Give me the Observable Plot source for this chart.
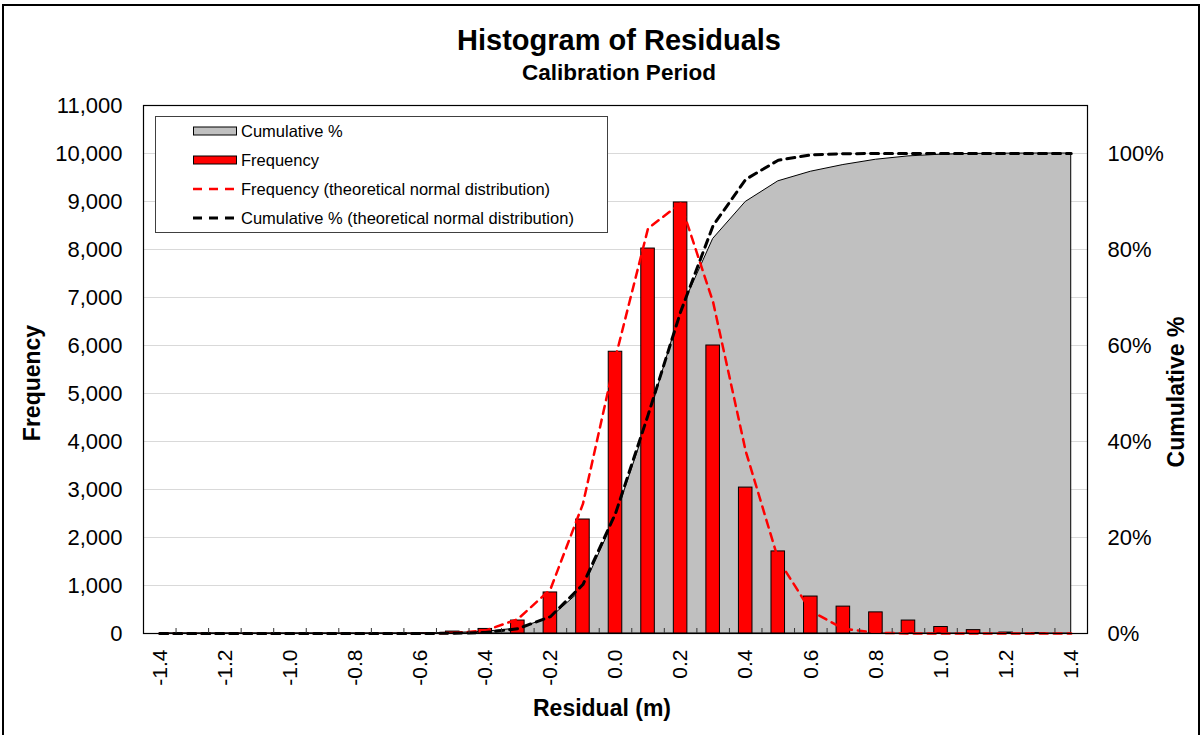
<!DOCTYPE html>
<html>
<head>
<meta charset="utf-8">
<title>Histogram of Residuals</title>
<script src="https://cdn.jsdelivr.net/npm/d3@7"></script>
<script src="https://cdn.jsdelivr.net/npm/@observablehq/plot@0.6"></script>
<style>
  html, body { margin: 0; padding: 0; background: #fff; }
  body { font-family: "Liberation Sans", Arial, sans-serif; color: #000; }
  #wrap { position: relative; width: 1203px; height: 735px; overflow: hidden; background: #fff; }
  #outline { position: absolute; left: 2px; top: 4px; width: 1198px; height: 780px; border: 2px solid #000; box-sizing: border-box; }
  #chart { position: absolute; left: 0; top: 0; }
  .lbl { position: absolute; font-weight: bold; white-space: nowrap; line-height: 1; }
  #title { left: 619px; top: 26px; font-size: 29px; transform: translateX(-50%); }
  #subtitle { left: 619px; top: 62px; font-size: 22.5px; transform: translateX(-50%); }
  #xlabel { left: 602px; top: 697px; font-size: 23px; transform: translateX(-50%); }
  #ylabel { left: 32px; top: 383px; font-size: 23px; transform: translate(-50%, -50%) rotate(-90deg); }
  #y2label { left: 1176px; top: 392px; font-size: 23px; transform: translate(-50%, -50%) rotate(-90deg); }
  #legend { position: absolute; left: 155px; top: 116px; width: 453px; height: 117px; box-sizing: border-box;
            border: 1px solid #404040; background: #fff; font-size: 16.5px; }
  #legend .row { position: absolute; left: 37px; height: 20px; display: flex; align-items: center; white-space: nowrap; }
  #legend svg { display: block; margin-right: 4px; }
</style>
</head>
<body>
<div id="wrap">
  <div id="chart"></div>
  <div id="outline"></div>
  <div class="lbl" id="title">Histogram of Residuals</div>
  <div class="lbl" id="subtitle">Calibration Period</div>
  <div class="lbl" id="xlabel">Residual (m)</div>
  <div class="lbl" id="ylabel">Frequency</div>
  <div class="lbl" id="y2label">Cumulative %</div>
  <div id="legend"></div>
</div>
<script>
// Residual bins (m), bin centres
const residuals = [-1.4, -1.3, -1.2, -1.1, -1.0, -0.9, -0.8, -0.7, -0.6, -0.5, -0.4, -0.3, -0.2, -0.1,
  0.0, 0.1, 0.2, 0.3, 0.4, 0.5, 0.6, 0.7, 0.8, 0.9, 1.0, 1.1, 1.2, 1.3, 1.4];

// Observed count of residuals in each bin
const frequency = [0, 0, 0, 0, 0, 0, 0, 0, 5, 40, 95, 270, 855, 2375,
  5870, 8020, 8980, 6000, 3040, 1710, 770, 560, 440, 270, 135, 70, 20, 10, 0];

// Observed cumulative percentage
const cumulativePct = [0, 0, 0, 0, 0, 0, 0, 0, 0.01, 0.11, 0.35, 1.04, 3.2, 9.2,
  24.1, 44.3, 67.1, 82.2, 89.9, 94.2, 96.2, 97.6, 98.7, 99.4, 99.75, 99.92, 99.97, 100, 100];

// Theoretical normal distribution: expected count per bin
const normalFrequency = [0, 0, 0, 0, 0, 0, 0, 0, 2, 10, 60, 300, 920, 2700,
  5750, 8440, 8960, 6900, 3800, 1540, 470, 100, 15, 2, 0, 0, 0, 0, 0];

// Theoretical normal distribution: cumulative percentage
const normalCumulativePct = [0, 0, 0, 0, 0, 0, 0, 0, 0, 0.05, 0.2, 1.0, 3.5, 10.2,
  25, 45.5, 67, 85, 94.6, 98.6, 99.7, 99.95, 100, 100, 100, 100, 100, 100, 100];

// Axis ticks
const freqTicks = [0, 1000, 2000, 3000, 4000, 5000, 6000, 7000, 8000, 9000, 10000, 11000];
const pctTicks = [0, 20, 40, 60, 80, 100];
const residualLabels = [-1.4, -1.2, -1.0, -0.8, -0.6, -0.4, -0.2, 0.0, 0.2, 0.4, 0.6, 0.8, 1.0, 1.2, 1.4];

const W = 1203, H = 735;
const margin = {top: 105, right: 116, bottom: 102, left: 143};
const bandwidth = (W - margin.left - margin.right) / residuals.length;
const barInset = 9.5;

// The percentage axis shares the frequency scale: 100 % lines up with 10,000
const pctToFreq = 10000 / 100;

const rows = residuals.map((r, i) => ({
  r,
  freq: frequency[i],
  cum: cumulativePct[i] * pctToFreq,
  nFreq: normalFrequency[i],
  nCum: normalCumulativePct[i] * pctToFreq
}));

// plain hyphen-minus, one decimal
const fmt1 = d => d.toFixed(1);

const chart = Plot.plot({
  width: W,
  height: H,
  marginTop: margin.top,
  marginRight: margin.right,
  marginBottom: margin.bottom,
  marginLeft: margin.left,
  style: {fontFamily: '"Liberation Sans", Arial, sans-serif', fontSize: "22px", color: "#000", background: "transparent"},
  x: {type: "band", domain: residuals, padding: 0, round: false},
  y: {domain: [0, 11000]},
  marks: [
    Plot.gridY(freqTicks.slice(1, -1), {stroke: "#d9d9d9", strokeOpacity: 1}),
    Plot.areaY(rows, {x: "r", y: "cum", fill: "#c0c0c0", stroke: "#000", strokeWidth: 1}),
    Plot.barY(rows, {x: "r", y: "freq", fill: "#ff0000", stroke: "#000", strokeWidth: 1, insetLeft: barInset, insetRight: barInset}),
    Plot.lineY(rows, {x: "r", y: "nFreq", stroke: "#ff0000", strokeWidth: 2.5, strokeDasharray: "8,6"}),
    Plot.lineY(rows, {x: "r", y: "nCum", stroke: "#000", strokeWidth: 3, strokeDasharray: "8,6"}),
    Plot.frame({stroke: "#000", strokeWidth: 1.2}),
    Plot.axisY({anchor: "left", ticks: freqTicks, tickFormat: d3.format(","), tickSize: 0, tickPadding: 21, label: null, fontSize: 22}),
    Plot.axisY({anchor: "right", ticks: pctTicks.map(p => p * pctToFreq), tickFormat: d => `${d / pctToFreq}%`, tickSize: 0, tickPadding: 20, label: null, fontSize: 22}),
    Plot.axisX({anchor: "bottom", ticks: residualLabels, tickFormat: fmt1, tickRotate: -90, tickSize: 0, tickPadding: 16, label: null, fontSize: 21}),
    // small tick marks on the bin boundaries
    Plot.axisX({anchor: "bottom", ticks: residuals.slice(1), tickFormat: () => "", tickSize: 5, dy: -5, dx: -bandwidth / 2, label: null, stroke: "#333"})
  ]
});
document.getElementById("chart").append(chart);

// Legend
const legendItems = [
  {label: "Cumulative %", kind: "rect", fill: "#c0c0c0"},
  {label: "Frequency", kind: "rect", fill: "#ff0000"},
  {label: "Frequency (theoretical normal distribution)", kind: "dash", stroke: "#ff0000", width: 2.5},
  {label: "Cumulative % (theoretical normal distribution)", kind: "dash", stroke: "#000", width: 3}
];
const rowTops = [4, 33, 62, 91];
const legend = document.getElementById("legend");
legendItems.forEach((item, i) => {
  const row = document.createElement("div");
  row.className = "row";
  row.style.top = rowTops[i] + "px";
  const swatch = item.kind === "rect"
    ? `<svg width="44" height="12"><rect x="0.5" y="2" width="43" height="8" fill="${item.fill}" stroke="#000" stroke-width="1"/></svg>`
    : `<svg width="44" height="12"><line x1="0" y1="6" x2="44" y2="6" stroke="${item.stroke}" stroke-width="${item.width}" stroke-dasharray="9,7"/></svg>`;
  row.innerHTML = swatch + `<span>${item.label}</span>`;
  legend.append(row);
});
</script>
</body>
</html>
